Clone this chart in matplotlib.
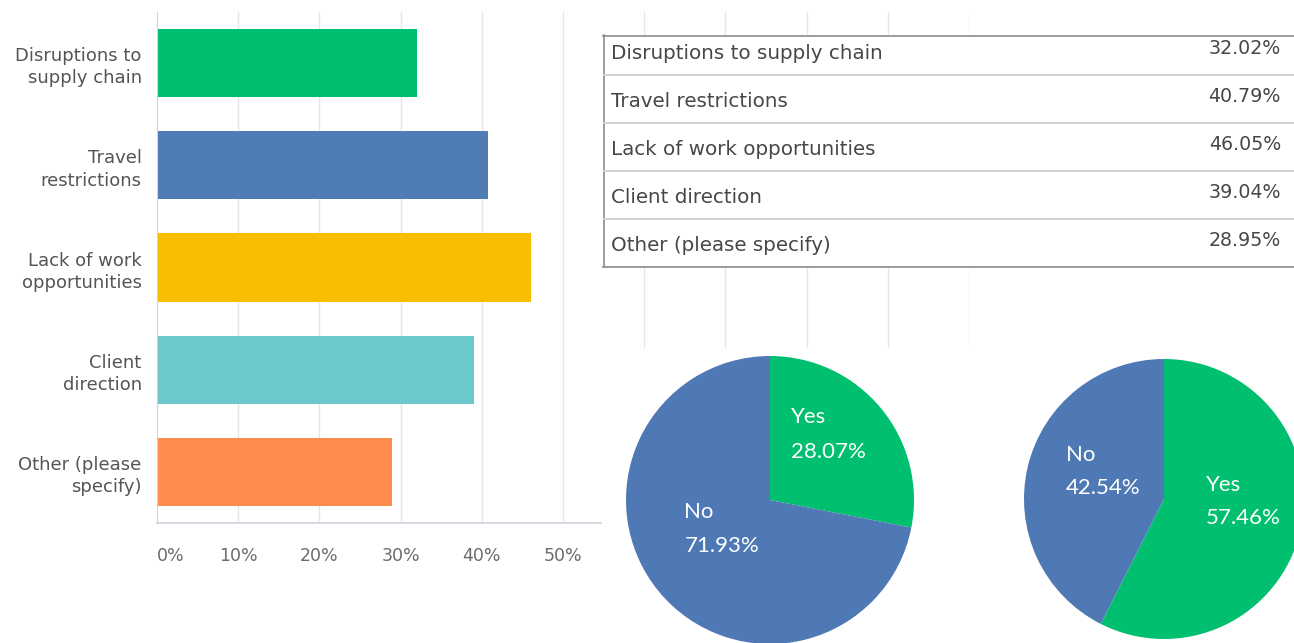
import matplotlib
matplotlib.use("Agg")
import matplotlib.pyplot as plt

# ---------------- data ----------------
categories = ["Disruptions to\nsupply chain", "Travel\nrestrictions",
              "Lack of work\nopportunities", "Client\ndirection",
              "Other (please\nspecify)"]
table_labels = ["Disruptions to supply chain", "Travel restrictions",
                "Lack of work opportunities", "Client direction",
                "Other (please specify)"]
values = [32.02, 40.79, 46.05, 39.04, 28.95]
bar_colors = ["#00bf6f", "#507cb6", "#f9be00", "#6bc8cd", "#ff8b4f"]
xtick_values = [0, 10, 20, 30, 40, 50]
xtick_labels = ["0%", "10%", "20%", "30%", "40%", "50%"]

pie1_labels = ["Yes", "No"]
pie1_values = [28.07, 71.93]
pie2_labels = ["Yes", "No"]
pie2_values = [57.46, 42.54]
pie_colors = ["#00bf6f", "#4f79b4"]

# ---------------- layout helpers ----------------
W, H = 1294, 643
fig = plt.figure(figsize=(W / 100, H / 100), dpi=100)
fig.patch.set_facecolor("white")


def rect(x, y, w, h):
    return [x / W, 1 - (y + h) / H, w / W, h / H]


# ---------------- bar chart ----------------
ax = fig.add_axes(rect(157, 12, 812, 511))
ax.barh(range(len(values)), values, height=0.667, color=bar_colors, zorder=2)
ax.set_xlim(0, 100)
ax.set_ylim(len(values) - 0.5, -0.5)
for v in range(10, 101, 10):
    ax.axvline(v, ymin=0 if v <= 50 else 0.344, ymax=1,
               color="#e6e6e6", lw=1, zorder=0.5)
for s in ["top", "right", "bottom"]:
    ax.spines[s].set_visible(False)
ax.spines["left"].set_color("#d4d4d4")
ax.axhline(len(values) - 0.5, xmin=0, xmax=0.547, color="#d9d3e2",
           lw=1.3, clip_on=False, zorder=3)
ax.set_xticks(xtick_values, xtick_labels)
ax.tick_params(axis="x", length=0, pad=17.5, labelsize=12.5,
               labelcolor="#6b6b6b")
ax.get_xticklabels()[0].set_horizontalalignment("left")
ax.set_yticks(range(len(categories)), categories)
ax.tick_params(axis="y", length=0, pad=11, labelsize=13,
               labelcolor="#555555")
for lbl in ax.get_yticklabels():
    lbl.set_multialignment("right")
    lbl.set_linespacing(1.3)

# ---------------- table ----------------
row_edges = [0, 40, 88, 136, 184, 232]
axt = fig.add_axes(rect(603, 35, 700, 232))
axt.set_xlim(0, 700)
axt.set_ylim(232, 0)
axt.set_facecolor("white")
for s in axt.spines.values():
    s.set_visible(False)
axt.set_xticks([])
axt.set_yticks([])
axt.plot([0, 700], [0.5, 0.5], color="#8c8c8c", lw=1.2, clip_on=False)
axt.plot([0, 700], [231.5, 231.5], color="#8c8c8c", lw=1.2, clip_on=False)
axt.plot([0.5, 0.5], [0, 232], color="#8c8c8c", lw=1.2, clip_on=False)
for e in row_edges[1:-1]:
    axt.plot([0, 700], [e, e], color="#d0d0d0", lw=1.3)
for i, (lab, val) in enumerate(zip(table_labels, values)):
    bottom = row_edges[i + 1]
    axt.text(8, bottom - 21.5, lab, ha="left", va="center",
             fontsize=14.3, color="#474747", family="DejaVu Sans")
    axt.text(678, bottom - 26.5, f"{val:.2f}%", ha="right", va="center",
             fontsize=13.7, color="#474747", family="DejaVu Sans")


# ---------------- pies ----------------
def draw_pie(cx, cy, r, vals, labels, label_pos):
    a = fig.add_axes(rect(cx - r, cy - r, 2 * r, 2 * r))
    a.pie(vals, colors=pie_colors, startangle=90, counterclock=False,
          radius=1, wedgeprops=dict(linewidth=0))
    a.set_xlim(-1, 1)
    a.set_ylim(-1, 1)
    a.set_aspect("equal")
    a.axis("off")
    for lab, val, (x, y) in zip(labels, vals, label_pos):
        a.text(x, y, lab, ha="left", va="center", color="white",
               fontsize=16, family=["Lato", "DejaVu Sans"])
        a.text(x, y - 0.238, f"{val:.2f}%", ha="left", va="center",
               color="white", fontsize=16, family=["Lato", "DejaVu Sans"])
    return a


draw_pie(770, 500, 144, pie1_values, pie1_labels,
         [(0.147, 0.573), (-0.594, -0.084)])
draw_pie(1164, 499, 140, pie2_values, pie2_labels,
         [(0.30, 0.10), (-0.70, 0.314)])

fig.savefig("out.png", dpi=100, facecolor="white")
